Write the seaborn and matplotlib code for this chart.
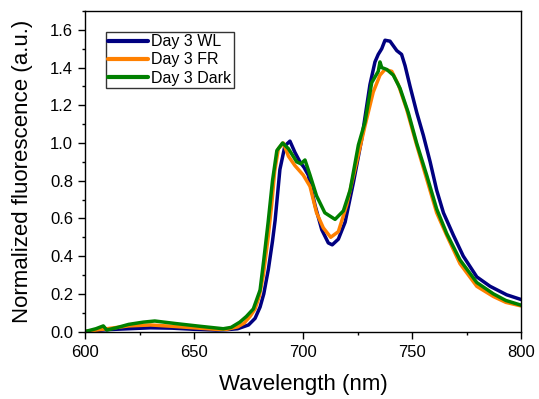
import numpy as np
import pandas as pd
import matplotlib
matplotlib.use("Agg")
import matplotlib.pyplot as plt
import seaborn as sns
from matplotlib.ticker import MultipleLocator, FormatStrFormatter

# Day 3 WL (navy)
wl_wl = [600, 610, 620, 630, 640, 650, 660, 665, 670, 675, 678, 680.3, 682, 684.1,
         686, 687.2, 689.4, 691.7, 694, 696.3, 698.6, 700.5, 702.4, 705.5, 708.6,
         711.6, 713.4, 716.2, 719.3, 723.1, 726.9, 730.7, 733, 734.5, 736.1, 737.6,
         739.9, 743, 745.2, 746.8, 749.1, 752.2, 755.2, 758.3, 761.3, 764.4, 769,
         773.5, 779.7, 785.8, 793.4, 800]
val_wl = [0.0, 0.01, 0.015, 0.02, 0.018, 0.012, 0.008, 0.01, 0.015, 0.035, 0.07, 0.13,
          0.2, 0.33, 0.48, 0.59, 0.86, 0.985, 1.01, 0.95, 0.90, 0.87, 0.83, 0.67, 0.54,
          0.47, 0.46, 0.49, 0.58, 0.79, 1.02, 1.31, 1.43, 1.47, 1.50, 1.545, 1.54, 1.49,
          1.47, 1.41, 1.30, 1.16, 1.04, 0.90, 0.75, 0.63, 0.51, 0.40, 0.29, 0.24, 0.195,
          0.17]

# Day 3 FR (orange)
wl_fr = [600, 610, 620, 630, 640, 650, 660, 665, 670, 673, 675.7, 678, 680, 681.8, 684,
         685.6, 687, 688.7, 691, 693.3, 696.3, 700.1, 703.2, 706.2, 709.3, 712.7,
         716.2, 720, 724.6, 728.4, 732.2, 735.3, 737.6, 740.7, 743.7, 747.5, 752.1,
         756.7, 761.3, 765.9, 772, 779.7, 787.3, 793, 800]
val_fr = [0.0, 0.015, 0.03, 0.035, 0.028, 0.02, 0.012, 0.012, 0.025, 0.045, 0.08, 0.12,
          0.19, 0.30, 0.50, 0.67, 0.85, 0.97, 1.00, 0.93, 0.88, 0.83, 0.77, 0.63, 0.55,
          0.50, 0.53, 0.67, 0.90, 1.09, 1.27, 1.36, 1.39, 1.38, 1.31, 1.18, 0.99, 0.81,
          0.63, 0.51, 0.36, 0.24, 0.186, 0.155, 0.136]

# Day 3 Dark (green)
wl_dk = [600, 605, 608.4, 610, 615, 620, 626.7, 632, 642, 652.8, 663.4, 667, 671, 674,
         677.2, 680.3, 682, 684, 686, 688, 690.6, 693.3, 697.1, 699, 700.9, 703.2,
         706.2, 710, 714.7, 718.5, 721.6, 725.4, 728.4, 731.5, 734.5, 735.3, 736.1,
         738.4, 741.4, 744.5, 748.3, 752.1, 756.7, 761.3, 765.9, 772, 779.7, 787.3,
         793, 800]
val_dk = [0.0, 0.015, 0.03, 0.008, 0.022, 0.038, 0.05, 0.056, 0.042, 0.028, 0.015, 0.022,
          0.05, 0.08, 0.12, 0.22, 0.38, 0.58, 0.80, 0.96, 1.00, 0.97, 0.90, 0.89, 0.91,
          0.83, 0.72, 0.63, 0.595, 0.64, 0.75, 0.99, 1.11, 1.32, 1.38, 1.43, 1.40, 1.39,
          1.36, 1.29, 1.16, 1.00, 0.83, 0.65, 0.52, 0.38, 0.26, 0.20, 0.165, 0.14]

labels = ["Day 3 WL", "Day 3 FR", "Day 3 Dark"]
colors = ["#000080", "#FF8000", "#008000"]

df = pd.concat([
    pd.DataFrame({"wl": wl_wl, "val": val_wl, "series": labels[0]}),
    pd.DataFrame({"wl": wl_fr, "val": val_fr, "series": labels[1]}),
    pd.DataFrame({"wl": wl_dk, "val": val_dk, "series": labels[2]}),
], ignore_index=True)

sns.set_style("ticks")
plt.rcParams["font.family"] = ["Liberation Sans", "DejaVu Sans"]
plt.rcParams["text.color"] = "black"
plt.rcParams["axes.labelcolor"] = "black"
plt.rcParams["xtick.color"] = "black"
plt.rcParams["ytick.color"] = "black"

fig = plt.figure(figsize=(5.39, 3.99), dpi=100)
ax = fig.add_axes([0.1577, 0.169, 0.809, 0.8034])

sns.lineplot(data=df, x="wl", y="val", hue="series", palette=colors,
             hue_order=labels, sort=False, estimator=None, linewidth=2.5, ax=ax)

ax.set_xlim(600, 800)
ax.set_ylim(0, 1.7)
ax.xaxis.set_major_locator(MultipleLocator(50))
ax.xaxis.set_minor_locator(MultipleLocator(25))
ax.yaxis.set_major_locator(MultipleLocator(0.2))
ax.yaxis.set_minor_locator(MultipleLocator(0.1))
ax.yaxis.set_major_formatter(FormatStrFormatter("%.1f"))

ax.tick_params(which="major", direction="out", length=5, width=1, color="black",
               labelcolor="black", labelsize=12)
ax.tick_params(which="minor", direction="out", length=2.5, width=1, color="black")
ax.tick_params(axis="x", pad=4.5)
ax.tick_params(axis="y", pad=3.5)
for side in ["top", "right", "left", "bottom"]:
    ax.spines[side].set_visible(True)
    ax.spines[side].set_color("black")
    ax.spines[side].set_linewidth(1)

ax.set_xlabel("Wavelength (nm)", fontsize=16, labelpad=10, color="black")
ax.set_ylabel("Normalized fluorescence (a.u.)", fontsize=16, labelpad=12, color="black")

leg = ax.legend(loc="upper left", bbox_to_anchor=(0.0475, 0.935), borderaxespad=0,
                fontsize=11.5, frameon=True, fancybox=False, handlelength=2.5,
                handletextpad=0.2, labelspacing=0.2, borderpad=0.15)
leg.get_frame().set_edgecolor("black")
leg.get_frame().set_linewidth(1)
for text in leg.get_texts():
    text.set_color("black")
for line in leg.get_lines():
    line.set_linewidth(3)

plt.savefig("out.png", dpi=100)
